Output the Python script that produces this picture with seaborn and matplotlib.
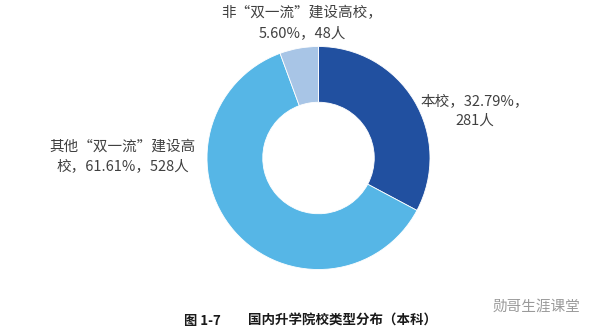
import matplotlib
matplotlib.use("Agg")
import matplotlib.pyplot as plt
import seaborn as sns

categories = ["本校", "其他“双一流”建设高校", "非“双一流”建设高校"]
counts = [281, 528, 48]
percents = [32.79, 61.61, 5.60]
colors = ["#2150A0", "#56B6E6", "#A8C5E6"]
title_num = "图 1-7"
title_text = "国内升学院校类型分布（本科）"
watermark = "勋哥生涯课堂"

sns.set_theme(style="white")
plt.rcParams['font.family'] = ['Noto Sans CJK SC', 'DejaVu Sans']

fig = plt.figure(figsize=(6.0, 3.35), dpi=100)
fig.patch.set_facecolor("white")

W, H = 600, 335
cx, cy, r = 318.5, 158, 111.5
ax = fig.add_axes([(cx - r) / W, 1 - (cy + r) / H, 2 * r / W, 2 * r / H])
ax.pie(counts, colors=colors, startangle=90, counterclock=False, radius=1,
       wedgeprops=dict(width=0.5, edgecolor="white", linewidth=0.6))
ax.set_xlim(-1, 1)
ax.set_ylim(-1, 1)
ax.set_aspect("equal")
ax.axis("off")

tc = "#404040"
fs = 10.5
def px(x, y):
    return x / W, 1 - y / H

fig.text(*px(302, 23), f"非“双一流”建设高校，\n{percents[2]:.2f}%，{counts[2]}人",
         ha="center", va="center", fontsize=fs, color=tc, linespacing=1.5)
fig.text(*px(475, 111), f"本校，{percents[0]:.2f}%，\n{counts[0]}人",
         ha="center", va="center", fontsize=fs, color=tc, linespacing=1.5)
fig.text(*px(123, 156), f"其他“双一流”建设高\n校，{percents[1]:.2f}%，{counts[1]}人",
         ha="center", va="center", fontsize=fs, color=tc, linespacing=1.5)

fig.text(*px(184, 321), title_num, ha="left", va="center", fontsize=9.5,
         fontweight="bold", color="#1a1a1a")
fig.text(*px(248, 321), title_text, ha="left", va="center", fontsize=9.7,
         fontweight="bold", color="#1a1a1a")
fig.text(*px(493, 308), watermark, ha="left", va="center", fontsize=10.5,
         color="#9a9a9a")

fig.savefig("out.png", dpi=100, facecolor="white")
